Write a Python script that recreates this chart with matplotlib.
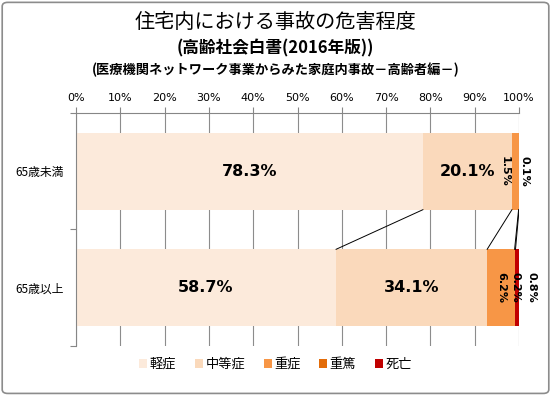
import numpy as np
import matplotlib
matplotlib.use('Agg')
from matplotlib import pyplot as plt
from matplotlib.patches import FancyBboxPatch

plt.rcParams['font.family'] = ['Noto Sans CJK JP', 'DejaVu Sans']

# data
groups = ['65歳未満', '65歳以上']
levels = ['軽症', '中等症', '重症', '重篤', '死亡']
values = {
    '65歳未満': [78.3, 20.1, 1.5, 0.1, 0.0],
    '65歳以上': [58.7, 34.1, 6.2, 0.2, 0.8],
}
colors = ['#FCEADB', '#FAD9BB', '#F79646', '#E36C09', '#C00000']
xticks = np.arange(0, 101, 10)

fig = plt.figure(figsize=(5.51, 3.95), dpi=100)
# outer border like the excel chart area
fig.patches.append(FancyBboxPatch((0.004, 0.004), 0.992, 0.99, boxstyle='round,pad=0,rounding_size=0.01',
                                  transform=fig.transFigure, fill=False, edgecolor='#8c8c8c', lw=1.2))
ax = fig.add_axes([0.138, 0.124, 0.804, 0.590])

ypos = np.array([0.5, 1.5])
h = 0.66
cum = np.zeros((len(groups), len(levels) + 1))
for i, g in enumerate(groups):
    cum[i, 1:] = np.cumsum(values[g])

for j, lev in enumerate(levels):
    w = [values[g][j] for g in groups]
    ax.barh(ypos, w, left=cum[:, j], height=h, color=colors[j], label=lev, zorder=2)

# series lines between the bars
for j in range(1, len(levels) + 1):
    ax.plot([cum[0, j], cum[1, j]], [ypos[0] + h / 2, ypos[1] - h / 2], color='black', lw=0.7, zorder=3)

# big labels
for i, g in enumerate(groups):
    for j in range(2):
        ax.text(cum[i, j] + values[g][j] / 2, ypos[i], f'{values[g][j]:.1f}%', ha='center', va='center',
                fontsize=11.5, fontweight='bold', family=['DejaVu Sans'], zorder=4)

# small rotated labels
small = [
    (0, 2, -2.3), (0, 3, 1.3),
    (1, 2, 0.0), (1, 3, 0.0), (1, 4, 3.1),
]
for i, j, dx in small:
    g = groups[i]
    v = values[g][j]
    ax.text(cum[i, j] + v / 2 + dx, ypos[i], f'{v:.1f}%', ha='center', va='center', rotation=-90,
            fontsize=8, fontweight='bold', family=['DejaVu Sans'], zorder=4)

ax.set_xlim(0, 100)
ax.set_ylim(2, 0)
ax.xaxis.tick_top()
ax.set_xticks(xticks)
ax.set_xticklabels([f'{t}%' for t in xticks], fontsize=8, family=['DejaVu Sans'])
ax.tick_params(axis='x', length=4, color='#868686', pad=3.5)
ax.set_yticks([0, 1, 2])
ax.set_yticklabels([])
ax.set_yticks(ypos, minor=True)
ax.set_yticklabels(groups, minor=True, fontsize=8.5)
ax.tick_params(axis='y', which='major', length=4, color='#868686')
ax.tick_params(axis='y', which='minor', length=0, pad=9)
ax.grid(axis='x', color='#8c8c8c', lw=0.8, zorder=0)
for s in ['right', 'bottom']:
    ax.spines[s].set_visible(False)
for s in ['top', 'left']:
    ax.spines[s].set_color('#868686')

fig.text(0.5, 0.943, '住宅内における事故の危害程度', ha='center', va='center', fontsize=14.5)
fig.text(0.5, 0.878, '(高齢社会白書(2016年版))', ha='center', va='center', fontsize=12, fontweight='bold')
fig.text(0.5, 0.822, '(医療機関ネットワーク事業からみた家庭内事故－高齢者編－)', ha='center', va='center',
         fontsize=9.5, fontweight='bold')

fig.legend(loc='center', bbox_to_anchor=(0.5, 0.077), ncol=5, frameon=False, fontsize=9.5,
           handlelength=0.6, handleheight=0.6, handletextpad=0.2, columnspacing=1.4)

fig.savefig('out.png', dpi=100)
